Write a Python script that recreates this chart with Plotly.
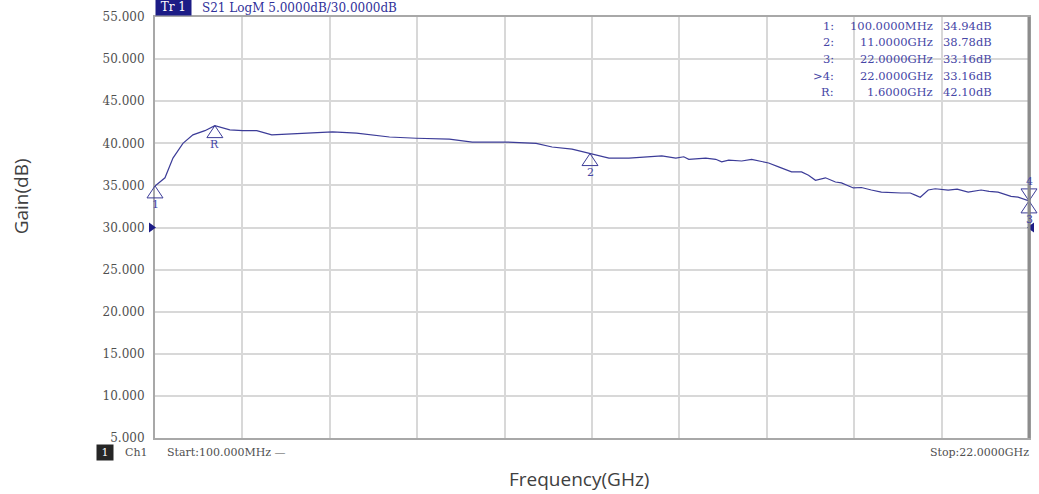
import plotly.graph_objects as go

# S21 sweep, 100 MHz .. 22 GHz
freq_ghz = [0.1, 0.35, 0.55, 0.8, 1.05, 1.35, 1.6, 1.975, 2.3, 2.65, 3.025, 3.475,
            3.975, 4.55, 5.15, 5.975, 6.65, 7.475, 8.05, 8.9, 9.65, 10.05, 10.55,
            11.0, 11.475, 11.975, 12.4, 12.8, 13.15, 13.35, 13.475, 13.9, 14.15,
            14.3, 14.475, 14.8, 15.05, 15.3, 15.475, 15.725, 16.05, 16.3, 16.475,
            16.65, 16.9, 17.15, 17.3, 17.6, 17.8, 18.05, 18.3, 18.8, 19.025, 19.15,
            19.275, 19.475, 19.65, 19.975, 20.2, 20.475, 20.8, 21.0, 21.225, 21.55,
            21.725, 22.0]
gain_db = [34.94, 35.9, 38.25, 40.0, 41.0, 41.5, 42.10, 41.6, 41.5, 41.5, 41.0, 41.1,
           41.2, 41.35, 41.2, 40.75, 40.6, 40.5, 40.15, 40.15, 40.0, 39.56, 39.3,
           38.78, 38.25, 38.25, 38.4, 38.5, 38.25, 38.4, 38.1, 38.25, 38.1,
           37.8, 38.0, 37.9, 38.1, 37.8, 37.66, 37.2, 36.6, 36.6, 36.2,
           35.6, 35.9, 35.4, 35.3, 34.7, 34.75, 34.45, 34.2, 34.1, 34.1, 33.85,
           33.6, 34.45, 34.6, 34.45, 34.55, 34.2, 34.45, 34.3, 34.2, 33.7,
           33.6, 33.16]

# Marker table
marker_names = ["1", "2", "3", ">4", "R"]
marker_freq_ghz = [0.1, 11.0, 22.0, 22.0, 1.6]
marker_gain_db = [34.94, 38.78, 33.16, 33.16, 42.10]
marker_above = [False, False, False, True, False]

# Display settings
start_ghz, stop_ghz = 0.1, 22.0
scale_db, ref_db = 5.0, 30.0
y_min, y_max = 5.0, 55.0
y_ticks = [5, 10, 15, 20, 25, 30, 35, 40, 45, 50, 55]

TRACE = "#3c3c98"
TEXT_BLUE = "#4646a6"
GREY_TEXT = "#505050"
SERIF = "DejaVu Serif"

W, H = 1039, 494
ML, MR, MT, MB = 155, 8, 17, 56
PW, PH = W - ML - MR, H - MT - MB


def px_x(p):
    return (p - ML) / PW


def px_y(p):
    return (H - MB - p) / PH


def fx(f):
    return (f - start_ghz) / (stop_ghz - start_ghz)


def fy(v):
    return (v - y_min) / (y_max - y_min)


def fmt_freq(f):
    if f < 1:
        return f"{f * 1000:.4f}MHz"
    return f"{f:.4f}GHz"


fig = go.Figure()
fig.add_trace(go.Scatter(x=freq_ghz, y=gain_db, mode="lines",
                         line=dict(color=TRACE, width=1.2), hoverinfo="skip"))

shapes = []
annotations = []

# Marker triangles and labels
for name, f, g, above in zip(marker_names, marker_freq_ghz, marker_gain_db, marker_above):
    path = "M 0 0 L -8 12 L 8 12 Z" if above else "M 0 0 L -8 -12 L 8 -12 Z"
    shapes.append(dict(type="path", xref="paper", yref="paper",
                       xsizemode="pixel", ysizemode="pixel",
                       xanchor=fx(f), yanchor=fy(g), path=path,
                       line=dict(color=TRACE, width=1), layer="above"))
    annotations.append(dict(x=f, y=g, xref="x", yref="y", text=name.lstrip(">"),
                            showarrow=False, yshift=19 if above else -19,
                            font=dict(family=SERIF, size=11, color=TEXT_BLUE)))

# Reference level arrows
shapes.append(dict(type="path", xref="paper", yref="paper", xsizemode="pixel",
                   ysizemode="pixel", xanchor=fx(start_ghz), yanchor=fy(ref_db),
                   path="M -6 5 L 1 0 L -6 -5 Z", fillcolor="#1c1c86",
                   line=dict(width=0), layer="above"))
shapes.append(dict(type="path", xref="paper", yref="paper", xsizemode="pixel",
                   ysizemode="pixel", xanchor=fx(stop_ghz), yanchor=fy(ref_db),
                   path="M 5 5 L -2 0 L 5 -5 Z", fillcolor="#1c1c86",
                   line=dict(width=0), layer="above"))

# Darker right frame edge
shapes.append(dict(type="line", xref="paper", yref="paper", x0=1, x1=1, y0=0, y1=1,
                   line=dict(color="#8c8c8c", width=3), layer="above"))

# Header
annotations.append(dict(x=0, y=1, xref="paper", yref="paper", xanchor="left",
                        yanchor="bottom", text=" Tr 1 ", showarrow=False,
                        bgcolor="#1c1c86", borderpad=1, yshift=1,
                        font=dict(family=SERIF, size=12, color="white")))
annotations.append(dict(x=px_x(200), y=1, xref="paper", yref="paper", xanchor="left",
                        yanchor="bottom", showarrow=False, yshift=0,
                        text=f"S21 LogM {scale_db:.4f}dB/{ref_db:.4f}dB",
                        font=dict(family=SERIF, size=12, color="#30309a")))

# Marker readout table
row_y = [26, 42.5, 59, 75.5, 92]
for name, f, g, yy in zip(marker_names, marker_freq_ghz, marker_gain_db, row_y):
    common = dict(xref="paper", yref="paper", y=px_y(yy), yanchor="middle",
                  showarrow=False, font=dict(family=SERIF, size=11.5, color=TEXT_BLUE))
    annotations.append(dict(x=px_x(838), xanchor="right",
                            text=name.replace(">", "&gt;") + ":", **common))
    annotations.append(dict(x=px_x(937), xanchor="right", text=fmt_freq(f), **common))
    annotations.append(dict(x=px_x(943), xanchor="left", text=f"{g:.2f}dB", **common))

# Footer
foot = dict(xref="paper", yref="paper", y=px_y(452), yanchor="middle", showarrow=False,
            font=dict(family=SERIF, size=11, color=GREY_TEXT))
annotations.append(dict(x=px_x(96), xanchor="left", text=" 1 ", bgcolor="#262626",
                        **{**foot, "font": dict(family=SERIF, size=11, color="white")}))
annotations.append(dict(x=px_x(123), xanchor="left", text="Ch1", **foot))
annotations.append(dict(x=px_x(165), xanchor="left",
                        text=f"Start:{start_ghz * 1000:.3f}MHz —", **foot))
annotations.append(dict(x=px_x(1033), xanchor="right",
                        text=f"Stop:{stop_ghz:.4f}GHz", **foot))

# Axis titles
annotations.append(dict(x=px_x(580), y=px_y(479), xref="paper", yref="paper",
                        text="Frequency(GHz)", showarrow=False, yanchor="middle",
                        font=dict(family="Open Sans", size=19, color="#404040")))
annotations.append(dict(x=px_x(21), y=px_y(196), xref="paper", yref="paper",
                        text="Gain(dB)", showarrow=False, textangle=-90,
                        xanchor="center", yanchor="middle",
                        font=dict(family="Open Sans", size=19, color="#404040")))

fig.update_layout(
    width=W, height=H,
    margin=dict(l=ML, r=MR, t=MT, b=MB),
    paper_bgcolor="white", plot_bgcolor="white",
    showlegend=False,
    shapes=shapes, annotations=annotations,
    xaxis=dict(range=[start_ghz, stop_ghz], tick0=start_ghz,
               dtick=(stop_ghz - start_ghz) / 10, showticklabels=False,
               showgrid=True, gridcolor="#d8d8d8", gridwidth=2, zeroline=False,
               showline=True, linecolor="#a8a8a8", linewidth=2, mirror=True,
               fixedrange=True),
    yaxis=dict(range=[y_min, y_max], tickvals=y_ticks,
               ticktext=[f"{v:.3f}" for v in y_ticks],
               tickfont=dict(family=SERIF, size=12, color=GREY_TEXT),
               ticklabelstandoff=6,
               showgrid=True, gridcolor="#d8d8d8", gridwidth=2, zeroline=False,
               showline=True, linecolor="#a8a8a8", linewidth=2, mirror=True,
               fixedrange=True),
)

fig.write_html("out.html")
